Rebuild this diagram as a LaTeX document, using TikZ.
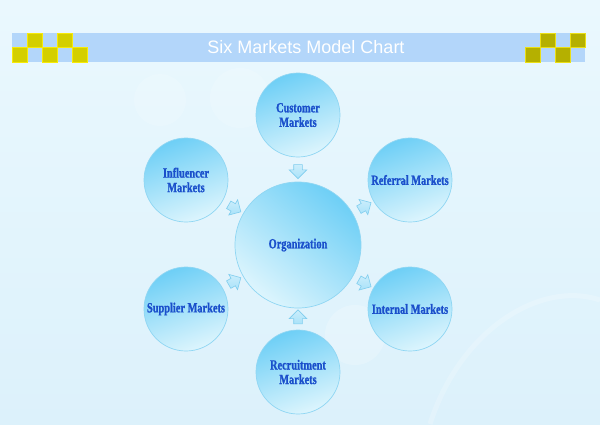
\documentclass[tikz,border=0pt]{standalone}
\usepackage{fontspec}
\setmainfont{Liberation Serif}
\newfontfamily\titlefont{Liberation Sans}
\newfontfamily\mkfont[FakeStretch=0.74,FakeBold=1.2]{Liberation Serif Bold}
\usepackage{tikz}
\usetikzlibrary{shapes,shapes.arrows,calc}
\definecolor{bgtop}{HTML}{EAF8FE}
\definecolor{bgbot}{HTML}{DCF1FB}
\definecolor{barblue}{HTML}{B3D6FA}
\definecolor{sqyellow}{HTML}{D4CF00}
\definecolor{sqolive}{HTML}{B5B000}
\definecolor{bubtop}{HTML}{6ECFF6}
\definecolor{bubbot}{HTML}{DDF5FD}
\definecolor{ringblue}{HTML}{8FD6F3}
\definecolor{textblue}{HTML}{1A4FCB}
\definecolor{arrfill}{HTML}{A9E2F9}
\definecolor{arrline}{HTML}{7FCDEE}
\newcommand{\myunit}{84pt}
\tikzset{
    node style mk/.style={circle,minimum size=\myunit,inner sep=0pt,draw=ringblue,line width=0.7pt,
        top color=bubtop,bottom color=bubbot,shading angle=20,text=textblue,align=center,
        font=\mkfont\fontsize{14}{14.5}\selectfont},
    node style org/.style={node style mk,minimum size=126pt,shading angle=-40},
    arrow style in/.style={single arrow,draw=arrline,line width=0.6pt,top color=white!40!arrfill,bottom color=arrfill,
        minimum height=14pt,inner sep=4pt,single arrow head extend=4.5pt,sloped,midway},
    square style y/.style={fill=sqyellow,draw=yellow!80!sqyellow,line width=0.5pt},
    square style o/.style={fill=sqolive,draw=yellow!70!sqolive,line width=0.5pt},
}

\begin{document}
\begin{tikzpicture}[>=latex,x=1pt,y=-1pt]
   \useasboundingbox (0,0) rectangle (600,424);
   \shade[top color=bgtop,bottom color=bgbot] (0,0) rectangle (600,424);
   % faint bubbles in the background
   \fill[white,opacity=0.15] (160,100) circle (26);
   \fill[white,opacity=0.15] (240,98) circle (30);
   \fill[white,opacity=0.2] (355,335) circle (30);
   \draw[white,opacity=0.2,line width=5pt] (430,424) .. controls (460,330) and (540,280) .. (600,300);

   % title bar
   \fill[barblue] (12,33) rectangle (585,62);
   \node[text=white,font=\titlefont\fontsize{18}{20}\selectfont] (title) at (306,47) {Six Markets Model Chart};
   \filldraw[square style y] (12,47) rectangle (27,62);
   \filldraw[square style y] (27,33) rectangle (42,47);
   \filldraw[square style y] (42,47) rectangle (57,62);
   \filldraw[square style y] (57,33) rectangle (72,47);
   \filldraw[square style y] (72,47) rectangle (87,62);
   \filldraw[square style o] (525,47) rectangle (540,62);
   \filldraw[square style o] (540,33) rectangle (555,47);
   \filldraw[square style o] (555,47) rectangle (570,62);
   \filldraw[square style o] (570,33) rectangle (585,47);

   % markets
   \node[node style org] (org) at (298,245) {Organization};
   \node[node style mk] (cust) at (298,115) {Customer\\Markets};
   \node[node style mk] (infl) at (186,180) {Influencer\\Markets};
   \node[node style mk] (refe) at (410,180) {Referral Markets};
   \node[node style mk] (supp) at (186,309) {Supplier Markets};
   \node[node style mk] (inte) at (410,309) {Internal Markets};
   \node[node style mk] (recr) at (298,372) {Recruitment\\Markets};

   % arrows into the organization
   \path (cust) -- node[arrow style in] {} (org);
   \path (infl) -- node[arrow style in] {} (org);
   \path (refe) -- node[arrow style in] {} (org);
   \path (supp) -- node[arrow style in] {} (org);
   \path (inte) -- node[arrow style in] {} (org);
   \path (recr) -- node[arrow style in] {} (org);
\end{tikzpicture}
\end{document}
